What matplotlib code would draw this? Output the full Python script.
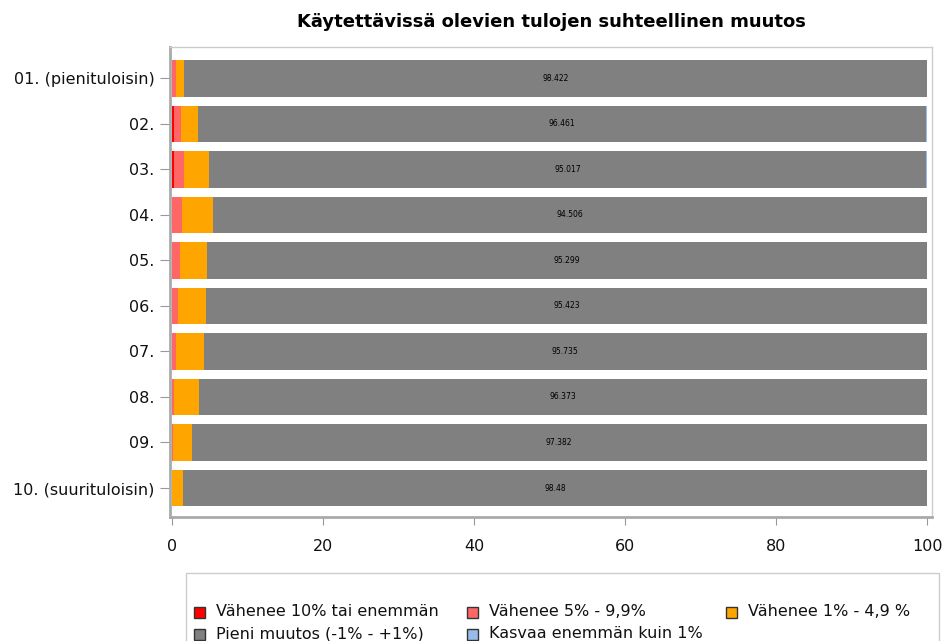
import matplotlib
matplotlib.use("Agg")
import matplotlib.pyplot as plt
from matplotlib.patches import Rectangle
import numpy as np

categories = ["01. (pienituloisin)", "02.", "03.", "04.", "05.", "06.", "07.", "08.", "09.", "10. (suurituloisin)"]
series_names = ["Vähenee 10% tai enemmän", "Vähenee 5% - 9,9%", "Vähenee 1% - 4,9 %",
                "Pieni muutos (-1% - +1%)", "Kasvaa enemmän kuin 1%"]
red_vals = [0.02, 0.30, 0.30, 0.05, 0.05, 0.05, 0.03, 0.02, 0.01, 0.01]
pink_vals = [0.55, 0.93, 1.32, 1.30, 1.06, 0.70, 0.53, 0.27, 0.10, 0.05]
orange_vals = [0.99, 2.21, 3.28, 4.10, 3.55, 3.80, 3.67, 3.32, 2.49, 1.44]
grey_vals = [98.422, 96.461, 95.017, 94.506, 95.299, 95.423, 95.735, 96.373, 97.382, 98.48]
blue_vals = [0.018, 0.099, 0.083, 0.044, 0.041, 0.027, 0.035, 0.018, 0.018, 0.02]
grey_labels = ["98.422", "96.461", "95.017", "94.506", "95.299", "95.423", "95.735", "96.373", "97.382", "98.48"]
x_ticks = [0, 20, 40, 60, 80, 100]

colors = ["#ff0000", "#ff6666", "#ffa500", "#808080", "#99bbe8"]
series = [red_vals, pink_vals, orange_vals, grey_vals, blue_vals]

W, H = 942, 641
fig = plt.figure(figsize=(W / 100, H / 100), dpi=100)
plt.rcParams['font.family'] = ['DejaVu Sans']

# axes placed in pixels
ax_l, ax_r, ax_t, ax_b = 170, 932, 47, 517
ax = fig.add_axes([ax_l / W, 1 - ax_b / H, (ax_r - ax_l) / W, (ax_b - ax_t) / H])

y = np.arange(len(categories))
left = np.zeros(len(categories))
containers = []
for vals, c in zip(series, colors):
    cont = ax.barh(y, vals, left=left, height=0.8, color=c, edgecolor="none")
    containers.append(cont)
    left = left + np.array(vals)

ax.bar_label(containers[3], labels=grey_labels, label_type="center", fontsize=5.5, color="#000000")

xmin = -2 * 100 / (927 - 172)
xmax = 100 + 5 * 100 / (927 - 172)
ax.set_xlim(xmin, xmax)
ax.set_ylim(9 + 0.637, -0.688)

ax.set_yticks(y)
ax.set_yticklabels(categories, fontsize=11.5, color="#111111")
ax.set_xticks(x_ticks)
ax.set_xticklabels([str(t) for t in x_ticks], fontsize=11.5, color="#111111")
ax.tick_params(axis="y", length=7, color="#999999", pad=4)
ax.tick_params(axis="x", length=6, color="#999999", pad=10)

for s in ["left", "bottom"]:
    ax.spines[s].set_color("#aaaaaa")
    ax.spines[s].set_linewidth(2)
for s in ["top", "right"]:
    ax.spines[s].set_color("#cccccc")
    ax.spines[s].set_linewidth(1)

fig.text((ax_l + ax_r) / 2 / W, 1 - 22 / H, "Käytettävissä olevien tulojen suhteellinen muutos",
         ha="center", va="center", fontsize=13, fontweight="bold")

# legend box
fig.patches.append(Rectangle((186 / W, 1 - 650 / H), (939 - 186) / W, (650 - 573) / H,
                             transform=fig.transFigure, facecolor="white", edgecolor="#cccccc", lw=1))
legend_pos = [(194, 612), (467, 612), (726, 612), (194, 634), (467, 634)]
for (lx, ly), name, c in zip(legend_pos, series_names, colors):
    fig.patches.append(Rectangle((lx / W, 1 - (ly + 5.5) / H), 11 / W, 11 / H,
                                 transform=fig.transFigure, facecolor=c, edgecolor="#333333", lw=1))
    fig.text((lx + 22) / W, 1 - ly / H, name, ha="left", va="center", fontsize=11.5, color="#111111")

fig.savefig("out.png", dpi=100)
